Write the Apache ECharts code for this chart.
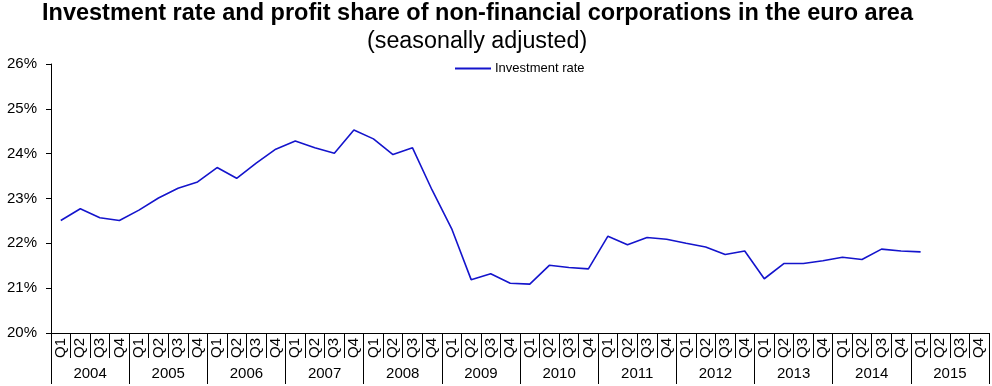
<!DOCTYPE html>
<html>
<head>
<meta charset="utf-8">
<script src="https://cdn.jsdelivr.net/npm/echarts@6/dist/echarts.min.js"></script>
<style>
html,body{margin:0;padding:0;background:#fff;}
#chart{width:992px;height:386px;}
</style>
</head>
<body>
<div id="chart"></div>
<script>
const years = ['2004','2005','2006','2007','2008','2009','2010','2011','2012','2013','2014','2015'];
const quarterNames = ['Q1','Q2','Q3','Q4'];
const quarters = [];
years.forEach(function(){ quarterNames.forEach(function(q){ quarters.push(q); }); });
const investmentRate = [
  22.51, 22.77, 22.57, 22.51,
  22.74, 23.01, 23.23, 23.37,
  23.69, 23.45, 23.79, 24.10,
  24.28, 24.13, 24.01, 24.53,
  24.33, 23.98, 24.13, 23.19,
  22.33, 21.19, 21.32, 21.11,
  21.09, 21.51, 21.46, 21.43,
  22.16, 21.97, 22.13, 22.09,
  22.00, 21.92, 21.75, 21.83,
  21.21, 21.55, 21.55, 21.61,
  21.69, 21.64, 21.87, 21.83,
  21.81
];
const yTicks = {min: 20, max: 26, interval: 1};

const chart = echarts.init(document.getElementById('chart'));
const font = '"Liberation Sans", Arial, sans-serif';
chart.setOption({
  animation: false,
  backgroundColor: '#fff',
  title: [
    {text: 'Investment rate and profit share of non-financial corporations in the euro area',
     left: 42, top: 2, padding: 0,
     textStyle: {fontFamily: font, fontSize: 23.5, fontWeight: 'bold', color: '#000'}},
    {text: '(seasonally adjusted)', left: 367, top: 30, padding: 0,
     textStyle: {fontFamily: font, fontSize: 23.3, fontWeight: 'normal', color: '#000'}}
  ],
  legend: {
    data: ['Investment rate'], left: 455, top: 62, padding: 0,
    itemWidth: 36, itemHeight: 10, itemGap: 4,
    icon: 'path://M0,4 L36,4 L36,6 L0,6 Z',
    textStyle: {fontFamily: font, fontSize: 13, color: '#000', padding: [0,0,0,-1]}
  },
  grid: {left: 51, right: 3, top: 64, bottom: 53, containLabel: false},
  xAxis: [
    {type: 'category', data: quarters, boundaryGap: true, position: 'bottom',
     axisLine: {show: true, lineStyle: {color: '#000', width: 1}},
     axisTick: {show: true, interval: 0, length: 25, lineStyle: {color: '#000'}},
     axisLabel: {interval: 0, rotate: 90, margin: 5, fontFamily: font, fontSize: 15, color: '#000'},
     splitLine: {show: false}},
    {type: 'category', data: years, boundaryGap: true, position: 'bottom',
     axisLine: {show: false},
     axisTick: {show: true, interval: 0, length: 51, lineStyle: {color: '#000'}},
     axisLabel: {interval: 0, margin: 33, fontFamily: font, fontSize: 15, color: '#000'},
     splitLine: {show: false}}
  ],
  yAxis: {
    type: 'value', min: yTicks.min, max: yTicks.max, interval: yTicks.interval,
    axisLine: {show: true, lineStyle: {color: '#000'}},
    axisTick: {show: true, length: 5, lineStyle: {color: '#000'}},
    axisLabel: {formatter: '{value}%', margin: 14, fontFamily: font, fontSize: 15, color: '#000'},
    splitLine: {show: false}
  },
  series: [{
    name: 'Investment rate', type: 'line', xAxisIndex: 0,
    data: investmentRate, showSymbol: false, symbol: 'none',
    lineStyle: {color: '#1414CC', width: 1.6},
    itemStyle: {color: '#1414CC'}
  }]
});
</script>
</body>
</html>
